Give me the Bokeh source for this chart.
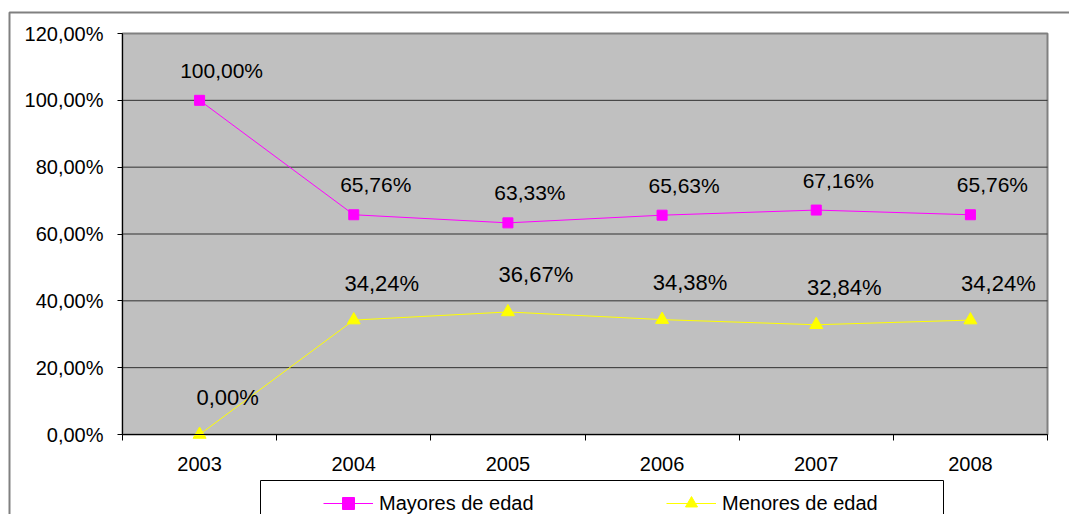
import numpy as np
from bokeh.plotting import figure
from bokeh.models import (Range1d, FixedTicker, ColumnDataSource, LabelSet,
                          Legend, LegendItem, BoxAnnotation)
from bokeh.core.properties import value
from bokeh.embed import file_html
from bokeh.resources import INLINE

# ---- data ----
years = ["2003", "2004", "2005", "2006", "2007", "2008"]
mayores = [100.00, 65.76, 63.33, 65.63, 67.16, 65.76]
menores = [0.00, 34.24, 36.67, 34.38, 32.84, 34.24]
y_ticks = [0, 20, 40, 60, 80, 100, 120]
series_names = ["Mayores de edad", "Menores de edad"]


def pct(v):
    return f"{v:.2f}".replace(".", ",") + "%"


FONT = "Liberation Sans"
W, H = 1069, 514
# plot-area placement in pixels (layout)
PL, PR, PT, PB = 122, 1047, 33, 434
n = len(years)
ymin, ymax = y_ticks[0], y_ticks[-1]
sx = (PR - PL) / n
sy = (PB - PT) / (ymax - ymin)
x_range = Range1d(-PL / sx, n + (W - PR) / sx)
y_range = Range1d(ymin - (H - PB) / sy, ymax + PT / sy)

x = [i + 0.5 for i in range(n)]

src = ColumnDataSource(dict(
    x=x, mayores=mayores, menores=menores,
    may_lbl=[pct(v) for v in mayores],
    men_lbl=[pct(v) for v in menores],
))

p = figure(width=W, height=H, output_backend="svg", toolbar_location=None,
           x_range=x_range, y_range=y_range,
           min_border_left=0, min_border_right=0, min_border_top=0,
           min_border_bottom=0)
p.background_fill_color = "white"
p.border_fill_color = "white"
p.outline_line_color = None
p.xgrid.visible = False
p.ygrid.visible = False

# gray plot area and grid lines
p.quad(left=0, right=n, bottom=ymin, top=ymax, fill_color="#C0C0C0",
       line_color="#808080", line_width=2)
p.segment(x0=[0] * (len(y_ticks) - 2), x1=[n] * (len(y_ticks) - 2),
          y0=y_ticks[1:-1], y1=y_ticks[1:-1], line_color="#303030", line_width=1)

# x axis: labels at category centres, ticks at category boundaries
xa = p.xaxis[0]
xa.fixed_location = ymin
xa.bounds = (0, n)
xa.ticker = FixedTicker(ticks=x, minor_ticks=list(range(n + 1)))
xa.major_label_overrides = {xi: yr for xi, yr in zip(x, years)}
xa.major_tick_line_color = None
xa.minor_tick_line_color = "black"
xa.minor_tick_out = 6
xa.minor_tick_in = 0
xa.axis_line_color = "black"
xa.major_label_standoff = 16
xa.major_label_text_font_size = "20px"
xa.major_label_text_font = FONT
xa.major_label_text_color = "black"

ya = p.yaxis[0]
ya.fixed_location = 0
ya.bounds = (ymin, ymax)
ya.ticker = FixedTicker(ticks=y_ticks, minor_ticks=[])
ya.major_label_overrides = {t: pct(t) for t in y_ticks}
ya.major_tick_out = 5
ya.major_tick_in = 0
ya.major_tick_line_color = "black"
ya.axis_line_color = "black"
ya.major_label_standoff = 14
ya.major_label_text_font_size = "20px"
ya.major_label_text_font = FONT
ya.major_label_text_color = "black"

r1 = p.line("x", "mayores", source=src, line_color="#FF00FF", line_width=1)
s1 = p.scatter("x", "mayores", source=src, marker="square", size=10,
               fill_color="#FF00FF", line_color="#FF00FF")
r2 = p.line("x", "menores", source=src, line_color="#FFFF00", line_width=1)
s2 = p.scatter("x", "menores", source=src, marker="triangle", size=13,
               fill_color="#FFFF00", line_color="#FFFF00")

p.add_layout(LabelSet(x="x", y="mayores", text="may_lbl", source=src,
                      x_offset=22, y_offset=30, text_align="center",
                      text_baseline="middle", text_font_size="21px",
                      text_font=value(FONT), text_color="black"))
p.add_layout(LabelSet(x="x", y="menores", text="men_lbl", source=src,
                      x_offset=28, y_offset=37, text_align="center",
                      text_baseline="middle", text_font_size="22px",
                      text_font=value(FONT), text_color="black"))

# outer chart border and legend box
p.add_layout(BoxAnnotation(left=9, right=5000, top=12, bottom=5000,
                           left_units="canvas", right_units="canvas",
                           top_units="canvas", bottom_units="canvas",
                           fill_color=None, fill_alpha=0,
                           line_color="#808080", line_alpha=1.0, line_width=2))
p.add_layout(BoxAnnotation(left=260, right=943, top=480, bottom=5000,
                           left_units="canvas", right_units="canvas",
                           top_units="canvas", bottom_units="canvas",
                           fill_color=None, fill_alpha=0,
                           line_color="black", line_alpha=1.0, line_width=1))

legend = Legend(items=[LegendItem(label=series_names[0], renderers=[r1, s1]),
                       LegendItem(label=series_names[1], renderers=[r2, s2])],
                location=(323, -4), orientation="horizontal",
                glyph_width=50, glyph_height=30, label_standoff=6,
                label_width=166, spacing=121, padding=0, margin=0,
                border_line_color=None, background_fill_alpha=0,
                label_text_font_size="20px", label_text_font=FONT,
                label_text_color="black")
p.add_layout(legend)

open("out.html", "w").write(file_html(p, INLINE))
